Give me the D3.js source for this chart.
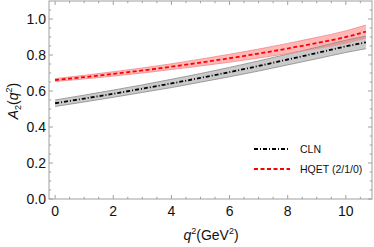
<!DOCTYPE html>
<html>
<head>
<meta charset="utf-8">
<script src="https://cdn.jsdelivr.net/npm/d3@7/dist/d3.min.js"></script>
<style>
  body { margin: 0; background: #fff; }
  text { font-family: "Liberation Sans", Arial, sans-serif; }
</style>
</head>
<body>
<script>
// values
var q2 = [0, 1, 2, 3, 4, 5, 6, 7, 8, 9, 10, 10.69];
var cln = [0.532, 0.558, 0.585, 0.613, 0.642, 0.673, 0.705, 0.739, 0.775, 0.811, 0.848, 0.870];
var clnErr = [0.018, 0.019, 0.020, 0.021, 0.023, 0.024, 0.026, 0.028, 0.030, 0.032, 0.034, 0.035];
var hqet = [0.661, 0.677, 0.695, 0.714, 0.735, 0.758, 0.782, 0.808, 0.836, 0.867, 0.900, 0.930];
var hqetErr = [0.008, 0.010, 0.012, 0.014, 0.016, 0.019, 0.022, 0.025, 0.028, 0.031, 0.034, 0.036];
var xTicks = [0, 2, 4, 6, 8, 10];
var yTicks = [0, 0.2, 0.4, 0.6, 0.8, 1.0];
var legendNames = ["CLN", "HQET (2/1/0)"];

var W = 374, H = 247;
var mLeft = 49, mRight = 372, mTop = 1, mBottom = 199;

var svg = d3.select("body").append("svg")
  .attr("width", W).attr("height", H);

var x = d3.scaleLinear().domain([-0.21, 10.9]).range([mLeft, mRight]);
var y = d3.scaleLinear().domain([0, 1.1]).range([mBottom, mTop]);

// bands
function band(vals, errs) {
  return d3.area()
    .x(function(d, i) { return x(q2[i]); })
    .y0(function(d, i) { return y(vals[i] - errs[i]); })
    .y1(function(d, i) { return y(vals[i] + errs[i]); })
    .curve(d3.curveMonotoneX)(q2);
}
function edge(vals, errs, s) {
  return d3.line()
    .x(function(d, i) { return x(q2[i]); })
    .y(function(d, i) { return y(vals[i] + s * errs[i]); })
    .curve(d3.curveMonotoneX)(q2);
}
function centre(vals) {
  return d3.line()
    .x(function(d, i) { return x(q2[i]); })
    .y(function(d, i) { return y(vals[i]); })
    .curve(d3.curveMonotoneX)(q2);
}

svg.append("path").attr("d", band(cln, clnErr))
  .attr("fill", "#b4b4b4").attr("fill-opacity", 0.7);
svg.append("path").attr("d", band(hqet, hqetErr))
  .attr("fill", "#ff7070").attr("fill-opacity", 0.5);
[1, -1].forEach(function(s) {
  svg.append("path").attr("d", edge(cln, clnErr, s))
    .attr("fill", "none").attr("stroke", "#8a8a8a").attr("stroke-width", 0.8);
  svg.append("path").attr("d", edge(hqet, hqetErr, s))
    .attr("fill", "none").attr("stroke", "#f08a8a").attr("stroke-width", 0.8);
});

var clnDash = "4,2,1,2";
var hqetDash = "4,2.5";
svg.append("path").attr("d", centre(cln))
  .attr("fill", "none").attr("stroke", "#000").attr("stroke-width", 1.8)
  .attr("stroke-dasharray", clnDash);
svg.append("path").attr("d", centre(hqet))
  .attr("fill", "none").attr("stroke", "#ff0000").attr("stroke-width", 1.8)
  .attr("stroke-dasharray", hqetDash);

// frame with ticks on all sides
var frameCol = "#a0a0a0";
svg.append("rect").attr("x", mLeft).attr("y", mTop)
  .attr("width", mRight - mLeft).attr("height", mBottom - mTop)
  .attr("fill", "none").attr("stroke", frameCol).attr("stroke-width", 1);

var xMinor = d3.range(0, 10.9, 0.5);
var yMinor = d3.range(0, 1.1, 0.05);
var tg = svg.append("g").attr("stroke", frameCol).attr("stroke-width", 1);
xMinor.forEach(function(v) {
  var len = xTicks.indexOf(v) >= 0 ? 4 : 2.2;
  tg.append("line").attr("x1", x(v)).attr("x2", x(v)).attr("y1", mBottom).attr("y2", mBottom - len);
  tg.append("line").attr("x1", x(v)).attr("x2", x(v)).attr("y1", mTop).attr("y2", mTop + len);
});
yMinor.forEach(function(v) {
  var major = yTicks.some(function(t) { return Math.abs(t - v) < 1e-6; });
  var len = major ? 4 : 2.2;
  tg.append("line").attr("y1", y(v)).attr("y2", y(v)).attr("x1", mLeft).attr("x2", mLeft + len);
  tg.append("line").attr("y1", y(v)).attr("y2", y(v)).attr("x1", mRight).attr("x2", mRight - len);
});

// tick labels
svg.selectAll(".xl").data(xTicks).enter().append("text")
  .attr("x", function(d) { return x(d); }).attr("y", 216)
  .attr("text-anchor", "middle").attr("font-size", 14).attr("fill", "#111")
  .text(function(d) { return d; });
svg.selectAll(".yl").data(yTicks).enter().append("text")
  .attr("x", 46).attr("y", function(d) { return y(d) + 5; })
  .attr("text-anchor", "end").attr("font-size", 14).attr("fill", "#111")
  .text(function(d) { return d.toFixed(1); });

// axis titles
var xt = svg.append("text").attr("x", 211).attr("y", 240)
  .attr("text-anchor", "middle").attr("font-size", 14).attr("fill", "#111");
xt.append("tspan").attr("font-style", "italic").text("q");
xt.append("tspan").attr("dy", -6).attr("font-size", 9).text("2");
xt.append("tspan").attr("dy", 6).text("(GeV");
xt.append("tspan").attr("dy", -6).attr("font-size", 9).text("2");
xt.append("tspan").attr("dy", 6).text(")");

var yt = svg.append("text").attr("transform", "translate(18,101) rotate(-90)")
  .attr("text-anchor", "middle").attr("font-size", 14).attr("fill", "#111");
yt.append("tspan").attr("font-style", "italic").text("A");
yt.append("tspan").attr("dy", 3).attr("font-size", 9).text("2");
yt.append("tspan").attr("dy", -3).text("(");
yt.append("tspan").attr("font-style", "italic").text("q");
yt.append("tspan").attr("dy", -6).attr("font-size", 9).text("2");
yt.append("tspan").attr("dy", 6).text(")");

// legend
var legStyles = [
  { color: "#000", dash: clnDash },
  { color: "#ff0000", dash: hqetDash }
];
legendNames.forEach(function(name, i) {
  var ly = 149 + i * 20;
  svg.append("line").attr("x1", 254).attr("x2", 290).attr("y1", ly).attr("y2", ly)
    .attr("stroke", legStyles[i].color).attr("stroke-width", 1.8)
    .attr("stroke-dasharray", legStyles[i].dash);
  svg.append("text").attr("x", 300).attr("y", ly + 4)
    .attr("font-size", 10.5).attr("fill", "#111").text(name);
});
</script>
</body>
</html>
